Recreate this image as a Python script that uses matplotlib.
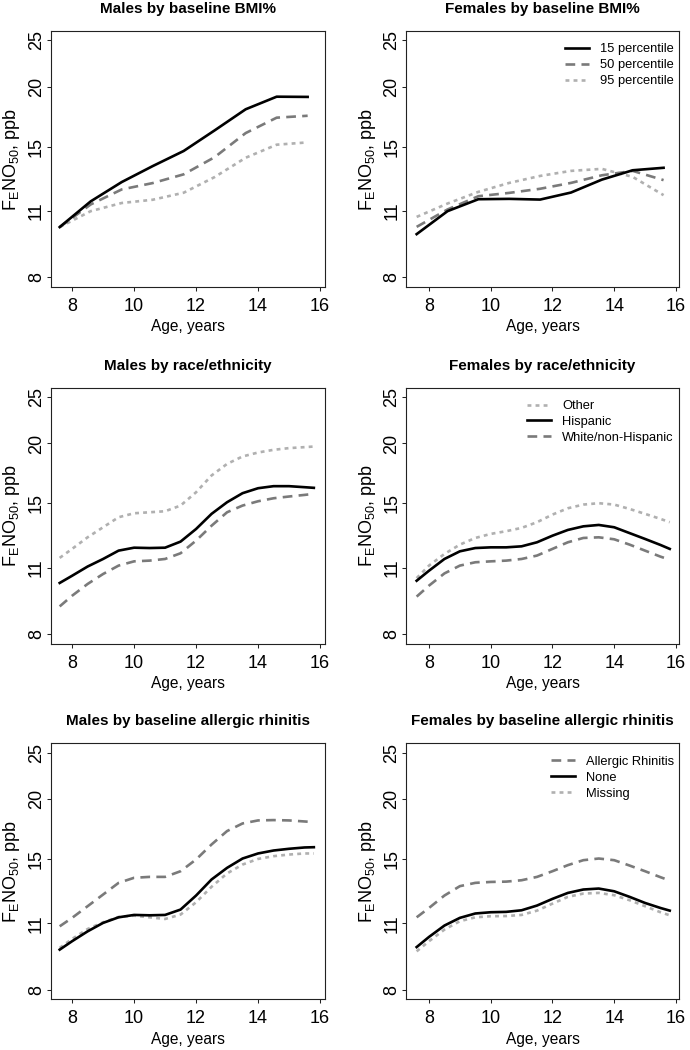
import matplotlib
matplotlib.use('Agg')
import matplotlib.pyplot as plt
from matplotlib.ticker import FixedLocator, FixedFormatter, NullLocator

plt.rcParams['font.family'] = ['Liberation Sans', 'DejaVu Sans']
plt.rcParams['mathtext.default'] = 'regular'
plt.rcParams['lines.scale_dashes'] = False

# ---------------- data ----------------
bmi_ages = [7.6, 8.6, 9.6, 10.6, 11.6, 12.6, 13.6, 14.6, 15.6]
male_bmi_p15 = [10.19, 11.53, 12.65, 13.66, 14.69, 16.22, 17.95, 19.07, 19.05]
male_bmi_p50 = [10.19, 11.36, 12.21, 12.59, 13.13, 14.26, 16.01, 17.24, 17.40]
male_bmi_p95 = [10.19, 11.00, 11.44, 11.62, 12.02, 12.96, 14.22, 15.14, 15.31]
female_bmi_p15 = [9.85, 11.00, 11.65, 11.67, 11.63, 12.03, 12.80, 13.39, 13.55]
female_bmi_p50 = [10.20, 11.09, 11.82, 12.01, 12.25, 12.60, 13.07, 13.35, 12.77]
female_bmi_p95 = [10.70, 11.41, 12.07, 12.60, 13.03, 13.35, 13.48, 12.97, 11.88]

ages = [7.6, 8.0, 8.5, 9.0, 9.5, 10.0, 10.5, 11.0, 11.5, 12.0, 12.5, 13.0,
        13.5, 14.0, 14.5, 15.0, 15.5, 15.8]
male_hisp = [10.23, 10.59, 11.07, 11.48, 11.95, 12.12, 12.10, 12.12, 12.48, 13.26,
             14.26, 15.08, 15.75, 16.13, 16.29, 16.29, 16.21, 16.16]
male_white = [9.14, 9.62, 10.18, 10.68, 11.12, 11.35, 11.39, 11.48, 11.80, 12.54,
              13.47, 14.37, 14.84, 15.15, 15.37, 15.50, 15.62, 15.70]
male_other = [11.54, 12.05, 12.74, 13.37, 14.03, 14.30, 14.37, 14.44, 14.84, 15.82,
              17.15, 18.13, 18.79, 19.15, 19.40, 19.56, 19.65, 19.71]
female_hisp = [10.34, 10.85, 11.48, 11.91, 12.10, 12.14, 12.14, 12.20, 12.44, 12.84,
               13.20, 13.43, 13.52, 13.37, 13.00, 12.64, 12.28, 12.05]
female_white = [9.58, 10.10, 10.71, 11.12, 11.30, 11.35, 11.39, 11.48, 11.67, 12.05,
                12.44, 12.70, 12.74, 12.62, 12.30, 11.95, 11.61, 11.44]
female_other = [10.47, 11.12, 11.76, 12.30, 12.70, 12.95, 13.12, 13.33, 13.70, 14.21,
                14.65, 14.91, 15.01, 14.91, 14.60, 14.26, 13.92, 13.70]
male_none = [9.70, 10.10, 10.59, 11.03, 11.33, 11.46, 11.44, 11.46, 11.76, 12.58,
             13.59, 14.37, 15.03, 15.40, 15.62, 15.75, 15.85, 15.87]
male_missing = [9.78, 10.21, 10.71, 11.06, 11.35, 11.42, 11.33, 11.24, 11.48, 12.18,
                13.12, 13.99, 14.60, 15.00, 15.20, 15.32, 15.40, 15.40]
male_ar = [10.85, 11.30, 11.95, 12.64, 13.37, 13.70, 13.76, 13.76, 14.14, 14.96,
           16.08, 17.15, 17.79, 18.05, 18.08, 18.05, 17.96, 17.90]
female_none = [9.82, 10.31, 10.89, 11.30, 11.54, 11.61, 11.63, 11.72, 11.99, 12.38,
               12.74, 12.95, 13.01, 12.84, 12.50, 12.14, 11.85, 11.70]
female_missing = [9.62, 10.10, 10.68, 11.12, 11.33, 11.39, 11.40, 11.46, 11.70, 12.10,
                  12.50, 12.70, 12.74, 12.60, 12.30, 11.95, 11.61, 11.44]
female_ar = [11.33, 11.85, 12.58, 13.16, 13.37, 13.43, 13.45, 13.54, 13.76, 14.14,
             14.56, 14.91, 15.03, 14.91, 14.53, 14.14, 13.74, 13.52]

y_ticks = [8, 11, 15, 20, 25]
x_ticks = [8, 10, 12, 14, 16]
titles = ["Males by baseline BMI%", "Females by baseline BMI%",
          "Males by race/ethnicity", "Females by race/ethnicity",
          "Males by baseline allergic rhinitis", "Females by baseline allergic rhinitis"]

# ---------------- styles ----------------
LW = 1.9
SOLID = dict(color='black', lw=LW, linestyle='-')
DASH = dict(color='#7a7a7a', lw=LW, linestyle=(0, (7.0, 4.5)))
DOT = dict(color='#b0b0b0', lw=LW, linestyle=(0, (2.8, 3.0)))

W, H = 690, 1050
fig = plt.figure(figsize=(W / 100, H / 100), dpi=100)

col_left = [50.7, 406.0]
col_width = [274.3, 273.0]
col_xlim = [(7.31, 16.16), (7.255, 16.10)]
row_top = [31.0, 387.7, 743.3]
ax_h = 256.0


def make_ax(r, c):
    ax = fig.add_axes([col_left[c] / W, 1 - (row_top[r] + ax_h) / H,
                       col_width[c] / W, ax_h / H])
    ax.set_yscale('log')
    ax.set_ylim(7.64, 26.15)
    ax.set_xlim(*col_xlim[c])
    ax.yaxis.set_major_locator(FixedLocator(y_ticks))
    ax.yaxis.set_major_formatter(FixedFormatter([str(v) for v in y_ticks]))
    ax.yaxis.set_minor_locator(NullLocator())
    ax.xaxis.set_major_locator(FixedLocator(x_ticks))
    ax.xaxis.set_major_formatter(FixedFormatter([str(v) for v in x_ticks]))
    ax.tick_params(axis='both', length=3.0, width=0.75, labelsize=13, color='#222222')
    ax.tick_params(axis='x', pad=5)
    ax.tick_params(axis='y', pad=1.2)
    for lab in ax.get_yticklabels():
        lab.set_rotation(90)
        lab.set_va('center')
    for s in ax.spines.values():
        s.set_linewidth(0.8)
        s.set_color('#222222')
    ax.set_title(titles[r * 2 + c], fontsize=11, fontweight='bold', pad=13)
    ax.set_xlabel('Age, years', fontsize=11.2, labelpad=3)
    ax.set_ylabel(r'F$_{E}$NO$_{50}$, ppb', fontsize=13, labelpad=4)
    return ax


def add_legend(ax, handles):
    ax.legend(handles=handles, loc='upper right', bbox_to_anchor=(1.0, 0.972),
              frameon=False, fontsize=9.3, handlelength=1.85, handletextpad=0.85,
              labelspacing=0.3, borderaxespad=0.2, borderpad=0.2)


# Row 1
ax = make_ax(0, 0)
ax.plot(bmi_ages, male_bmi_p95, **DOT)
ax.plot(bmi_ages, male_bmi_p50, **DASH)
ax.plot(bmi_ages, male_bmi_p15, **SOLID)

ax = make_ax(0, 1)
ax.plot(bmi_ages, female_bmi_p95, **DOT)
ax.plot(bmi_ages, female_bmi_p50, **DASH)
ax.plot(bmi_ages, female_bmi_p15, **SOLID)
h1, = ax.plot([], [], label='15 percentile', **SOLID)
h2, = ax.plot([], [], label='50 percentile', **DASH)
h3, = ax.plot([], [], label='95 percentile', **DOT)
add_legend(ax, [h1, h2, h3])

# Row 2
ax = make_ax(1, 0)
ax.plot(ages, male_other, **DOT)
ax.plot(ages, male_white, **DASH)
ax.plot(ages, male_hisp, **SOLID)

ax = make_ax(1, 1)
ax.plot(ages, female_other, **DOT)
ax.plot(ages, female_white, **DASH)
ax.plot(ages, female_hisp, **SOLID)
h1, = ax.plot([], [], label='Other', **DOT)
h2, = ax.plot([], [], label='Hispanic', **SOLID)
h3, = ax.plot([], [], label='White/non-Hispanic', **DASH)
add_legend(ax, [h1, h2, h3])

# Row 3
ax = make_ax(2, 0)
ax.plot(ages, male_missing, **DOT)
ax.plot(ages, male_ar, **DASH)
ax.plot(ages, male_none, **SOLID)

ax = make_ax(2, 1)
ax.plot(ages, female_missing, **DOT)
ax.plot(ages, female_ar, **DASH)
ax.plot(ages, female_none, **SOLID)
h1, = ax.plot([], [], label='Allergic Rhinitis', **DASH)
h2, = ax.plot([], [], label='None', **SOLID)
h3, = ax.plot([], [], label='Missing', **DOT)
add_legend(ax, [h1, h2, h3])

fig.savefig('out.png', dpi=100, facecolor='white')
